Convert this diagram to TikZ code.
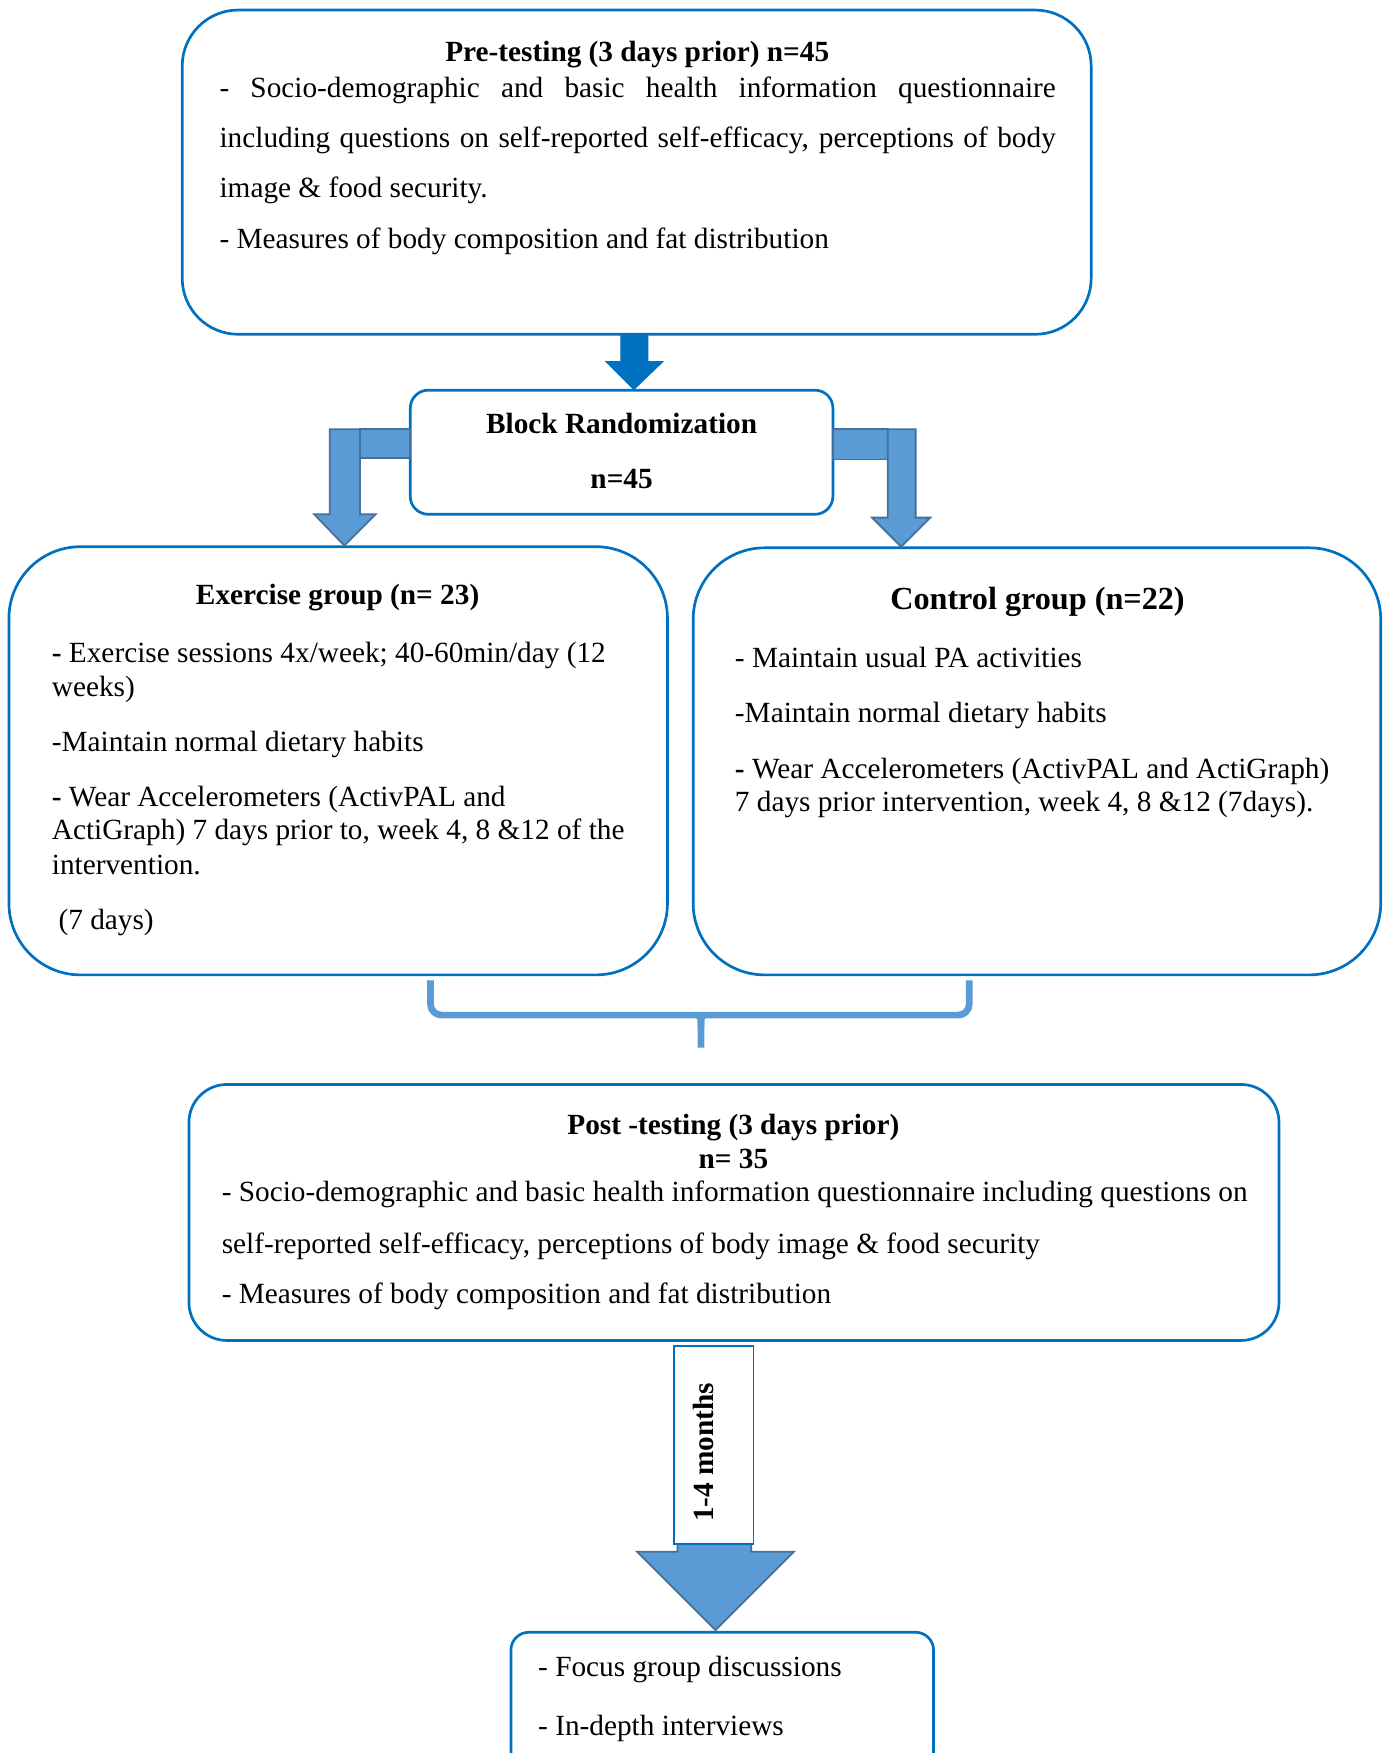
\documentclass[tikz,border=0pt]{standalone}
\usepackage{fontspec}
\setmainfont{Liberation Serif}
\definecolor{boxblue}{HTML}{0070C0}
\definecolor{arrfill}{HTML}{5B9BD5}
\definecolor{arrline}{HTML}{41719C}
\begin{document}
\begin{tikzpicture}[x=0.5pt,y=-0.5pt,
  box/.style={draw=boxblue, line width=1.2pt, inner sep=0pt, fill=white},
  txt/.style={anchor=base west, inner sep=0pt, font=\fontsize{13.1}{15}\selectfont},
  ctxt/.style={anchor=base, inner sep=0pt, font=\fontsize{13.1}{15}\selectfont\bfseries},
  blockarrow/.style={fill=arrfill, draw=arrline, line width=0.8pt, line join=miter},
  brace/.style={draw=arrfill, line width=3pt}]
\useasboundingbox (0,0) rectangle (1242,1568);
\clip (0,0) rectangle (1242,1568);
\fill[white] (0,0) rectangle (1242,1568);

% boxes
\node[box, rounded corners=25pt, minimum width=406.5pt, minimum height=145pt] (pre) at (569.5,154) {};
\node[box, rounded corners=8pt, minimum width=189pt, minimum height=55.5pt] (rand) at (556,404.5) {};
\node[box, rounded corners=32pt, minimum width=294.5pt, minimum height=191.5pt] (ex) at (302.5,680.5) {};
\node[box, rounded corners=32pt, minimum width=307.5pt, minimum height=191pt] (ctl) at (927.5,681) {};
\node[box, rounded corners=17pt, minimum width=487.5pt, minimum height=114.5pt] (post) at (656.5,1084.5) {};
\node[box, rounded corners=8pt, minimum width=189pt, minimum height=80pt] (fin) at (646,1540) {};

% top dark arrow
\fill[boxblue] (555,299) -- (580,299) -- (580,323) -- (594,323) -- (567,349) -- (541,323) -- (555,323) -- cycle;

% left bent arrow
\draw[blockarrow] (322,384) rectangle (367,410);
\draw[blockarrow] (295,384) -- (322,384) -- (322,460) -- (336,460) -- (308,488) -- (281,460) -- (295,460) -- cycle;
% right bent arrow
\draw[blockarrow] (745,384) rectangle (794,411);
\draw[blockarrow] (794,384) -- (819,384) -- (819,463) -- (832,463) -- (806,489) -- (780,463) -- (794,463) -- cycle;

% brace
\draw[brace, rounded corners=5pt] (385,877) -- (385,908) -- (867,908) -- (867,877);
\draw[brace] (624,908) .. controls (627,910) .. (627,918) -- (627,937);
\draw[brace] (630,908) .. controls (627,910) .. (627,918);

% months arrow
\draw[blockarrow] (606,1378) -- (606,1388) -- (570,1388) -- (640,1458) -- (710,1388) -- (672,1388) -- (672,1378) -- cycle;
\node[draw=boxblue, line width=0.8pt, fill=white, inner sep=0pt, minimum width=35.5pt, minimum height=88.5pt] (mbar) at (638.5,1292.25) {};
\node[rotate=90, inner sep=0pt, font=\fontsize{13.1}{15}\selectfont\bfseries] (mtxt) at (629,1299) {1-4 months};

% pre-testing text
\node[ctxt] (pret) at (570,55) {Pre-testing (3 days prior) n=45};
\node[txt] (pre1) at (196,87) {\makebox[374pt][s]{- Socio-demographic and basic health information questionnaire}};
\node[txt] (pre2) at (196,132) {\makebox[374pt][s]{including questions on self-reported self-efficacy, perceptions of body}};
\node[txt] (pre3) at (196,177) {image \& food security.};
\node[txt] (pre4) at (196,222) {- Measures of body composition and fat distribution};

% randomization text
\node[ctxt] (randt) at (556,388) {Block Randomization};
\node[ctxt] (randn) at (556,437) {n=45};

% exercise text
\node[ctxt] (ext) at (302,541) {Exercise group (n= 23)};
\node[txt] (ex1) at (46,593) {\textbf{-} Exercise sessions 4x/week; 40-60min/day (12};
\node[txt] (ex2) at (46,623) {weeks)};
\node[txt] (ex3) at (46,672) {-Maintain normal dietary habits};
\node[txt] (ex4) at (46,721) {\textbf{-} Wear Accelerometers (ActivPAL and};
\node[txt] (ex5) at (46,751) {ActiGraph) 7 days prior to, week 4, 8 \&12 of the};
\node[txt] (ex6) at (46,782) {intervention.};
\node[txt] (ex7) at (52,831) {(7 days)};

% control text
\node[ctxt, font=\fontsize{14.4}{17}\selectfont\bfseries] (ctlt) at (928,545) {Control group (n=22)};
\node[txt] (c1) at (657,597) {- Maintain usual PA activities};
\node[txt] (c2) at (657,646) {-Maintain normal dietary habits};
\node[txt] (c3) at (657,696) {\textbf{-} Wear Accelerometers (ActivPAL and ActiGraph)};
\node[txt] (c4) at (657,726) {7 days prior intervention, week 4, 8 \&12 (7days).};

% post-testing text
\node[ctxt] (postt) at (656,1015) {Post -testing (3 days prior)};
\node[ctxt] (postn) at (656,1045) {n= 35};
\node[txt] (p1) at (198,1075) {- Socio-demographic and basic health information questionnaire including questions on};
\node[txt] (p2) at (198,1121) {self-reported self-efficacy, perceptions of body image \& food security};
\node[txt] (p3) at (198,1166) {- Measures of body composition and fat distribution};

% final text
\node[txt] (f1) at (481,1500) {- Focus group discussions};
\node[txt] (f2) at (481,1552) {- In-depth interviews};
\end{tikzpicture}
\end{document}
